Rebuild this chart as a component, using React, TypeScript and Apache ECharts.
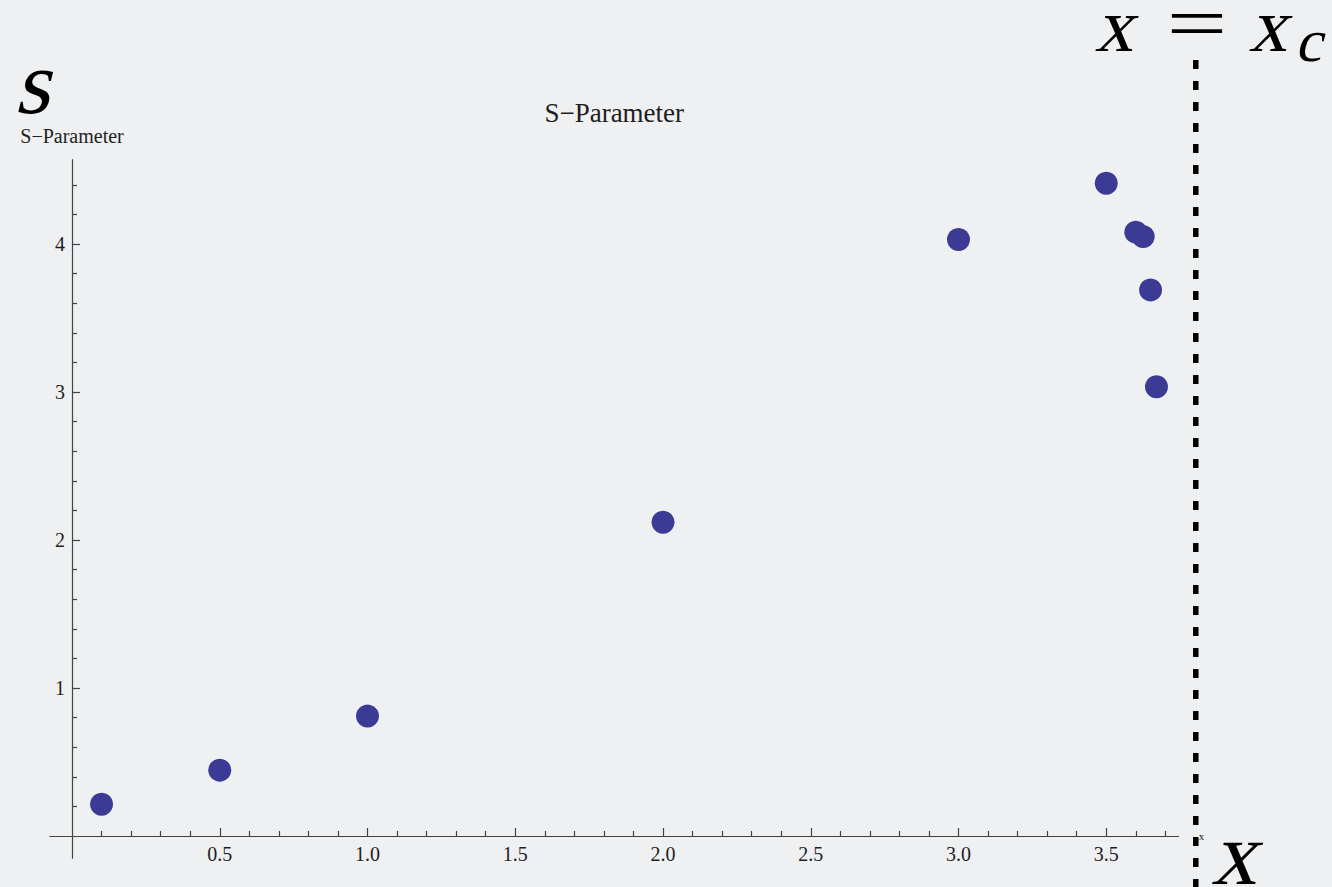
import { useEffect, useRef } from "react";
import * as echarts from "echarts";

// Measured S-parameter samples
const sampleX = [0.1, 0.5, 1.0, 2.0, 3.0, 3.5, 3.6, 3.625, 3.65, 3.67];
const sampleS = [0.215, 0.445, 0.81, 2.12, 4.03, 4.41, 4.08, 4.05, 3.69, 3.035];

// Critical position x = x_c
const criticalX = 3.803;

// Axis ticks
const xMajorTicks = [0.5, 1.0, 1.5, 2.0, 2.5, 3.0, 3.5];
const xMinorTicks = [
  0.1, 0.2, 0.3, 0.4, 0.6, 0.7, 0.8, 0.9, 1.1, 1.2, 1.3, 1.4, 1.6, 1.7, 1.8, 1.9,
  2.1, 2.2, 2.3, 2.4, 2.6, 2.7, 2.8, 2.9, 3.1, 3.2, 3.3, 3.4, 3.6, 3.7,
];
const yMajorTicks = [1, 2, 3, 4];
const yMinorTicks = [
  0.2, 0.4, 0.6, 0.8, 1.2, 1.4, 1.6, 1.8, 2.2, 2.4, 2.6, 2.8, 3.2, 3.4, 3.6, 3.8,
  4.2, 4.4,
];

const X_MIN = -0.075;
const X_MAX = 3.745;
const Y_MIN = -0.15;
const Y_MAX = 4.57;

const PX_PER_X = 295.5;
const PX_PER_Y = 148;
const ORIGIN_X = 72;
const ORIGIN_Y = 836;

const SERIF = "Liberation Serif";
const INK = "#1e1e1e";
const AXIS = "#444";
const SLANT = -0.24; // negative skew leans glyph tops to the right

// Large math-style letter; added straight to zrender so it can be skewed
function mathText(
  text: string,
  x: number,
  y: number,
  size: number,
  slant = true,
  stretch = 1
) {
  return new echarts.graphic.Text({
    x,
    y,
    z: 10,
    skewX: slant ? SLANT : 0,
    scaleX: stretch,
    silent: true,
    style: {
      text,
      fontFamily: SERIF,
      fontWeight: "normal",
      fontSize: size,
      fill: "#000",
      align: "center",
      verticalAlign: "middle",
    },
  } as any);
}

export default function App() {
  const ref = useRef<HTMLDivElement>(null);

  useEffect(() => {
    if (!ref.current) return;
    const chart = echarts.init(ref.current, undefined, { renderer: "svg" });

    const gridLeft = ORIGIN_X + X_MIN * PX_PER_X;
    const gridWidth = (X_MAX - X_MIN) * PX_PER_X;
    const gridTop = ORIGIN_Y - Y_MAX * PX_PER_Y;
    const gridHeight = (Y_MAX - Y_MIN) * PX_PER_Y;
    const xAxisOffset = Y_MIN * PX_PER_Y; // lift x axis onto s = 0
    const yAxisOffset = X_MIN * PX_PER_X; // push y axis onto x = 0

    const baseX = {
      type: "value" as const,
      min: X_MIN,
      max: X_MAX,
      position: "bottom" as const,
      offset: xAxisOffset,
      splitLine: { show: false },
    };
    const baseY = {
      type: "value" as const,
      min: Y_MIN,
      max: Y_MAX,
      position: "left" as const,
      offset: yAxisOffset,
      splitLine: { show: false },
    };

    chart.setOption({
      animation: false,
      backgroundColor: "#eef0f2",
      grid: { left: gridLeft, top: gridTop, width: gridWidth, height: gridHeight },
      xAxis: [
        {
          ...baseX,
          name: "x",
          nameLocation: "end",
          nameGap: 20,
          nameTextStyle: { fontFamily: SERIF, fontSize: 11, color: INK },
          axisLine: { show: true, onZero: false, lineStyle: { color: AXIS, width: 1.2 } },
          axisTick: {
            show: true,
            inside: true,
            length: 8,
            customValues: xMajorTicks,
            lineStyle: { color: AXIS, width: 1.2 },
          },
          axisLabel: {
            show: true,
            customValues: xMajorTicks,
            margin: 8,
            fontFamily: SERIF,
            fontSize: 20,
            color: INK,
            formatter: (v: number) => v.toFixed(1),
          },
        },
        {
          ...baseX,
          axisLine: { show: false, onZero: false },
          axisTick: {
            show: true,
            inside: true,
            length: 5,
            customValues: xMinorTicks,
            lineStyle: { color: AXIS, width: 1.2 },
          },
          axisLabel: { show: false },
        },
      ],
      yAxis: [
        {
          ...baseY,
          name: "S\u2212Parameter",
          nameLocation: "end",
          nameGap: 14,
          nameTextStyle: { fontFamily: SERIF, fontSize: 20, color: INK },
          axisLine: { show: true, onZero: false, lineStyle: { color: AXIS, width: 1.2 } },
          axisTick: {
            show: true,
            inside: true,
            length: 8,
            customValues: yMajorTicks,
            lineStyle: { color: AXIS, width: 1.2 },
          },
          axisLabel: {
            show: true,
            customValues: yMajorTicks,
            margin: 7,
            fontFamily: SERIF,
            fontSize: 20,
            color: INK,
            formatter: (v: number) => String(v),
          },
        },
        {
          ...baseY,
          axisLine: { show: false, onZero: false },
          axisTick: {
            show: true,
            inside: true,
            length: 5,
            customValues: yMinorTicks,
            lineStyle: { color: AXIS, width: 1.2 },
          },
          axisLabel: { show: false },
        },
      ],
      series: [
        {
          type: "scatter",
          xAxisIndex: 0,
          yAxisIndex: 0,
          symbol: "circle",
          symbolSize: 23,
          clip: false,
          itemStyle: { color: "#3b3b96", opacity: 1 },
          data: sampleX.map((x, i) => [x, sampleS[i]]),
        },
      ],
    });

    const xcPx = chart.convertToPixel({ xAxisIndex: 0 }, criticalX) as number;
    const plotCenter = gridLeft + gridWidth / 2;

    chart.setOption({
      graphic: [
        {
          type: "text",
          z: 10,
          x: plotCenter,
          y: 113,
          style: {
            text: "S\u2212Parameter",
            fontFamily: SERIF,
            fontSize: 27,
            fill: INK,
            align: "center",
            verticalAlign: "middle",
          },
        },
        {
          type: "line",
          z: 10,
          shape: { x1: xcPx, y1: 60, x2: xcPx, y2: 887 },
          style: { stroke: "#000", lineWidth: 5.5, lineDash: [9, 12], lineCap: "butt" },
        },
      ],
    });

    const zr = chart.getZr();
    [
      mathText("s", 39, 83, 90),
      mathText("x", 1120, 25, 76),
      mathText("=", 1197, 23, 76, false, 1.42),
      mathText("x", 1274, 25, 76),
      mathText("c", 1313, 41, 60),
      mathText("x", 1241, 854, 90),
    ].forEach((t) => zr.add(t));

    return () => chart.dispose();
  }, []);

  return (
    <div
      ref={ref}
      style={{ position: "fixed", left: 0, top: 0, width: 1332, height: 887 }}
    />
  );
}
